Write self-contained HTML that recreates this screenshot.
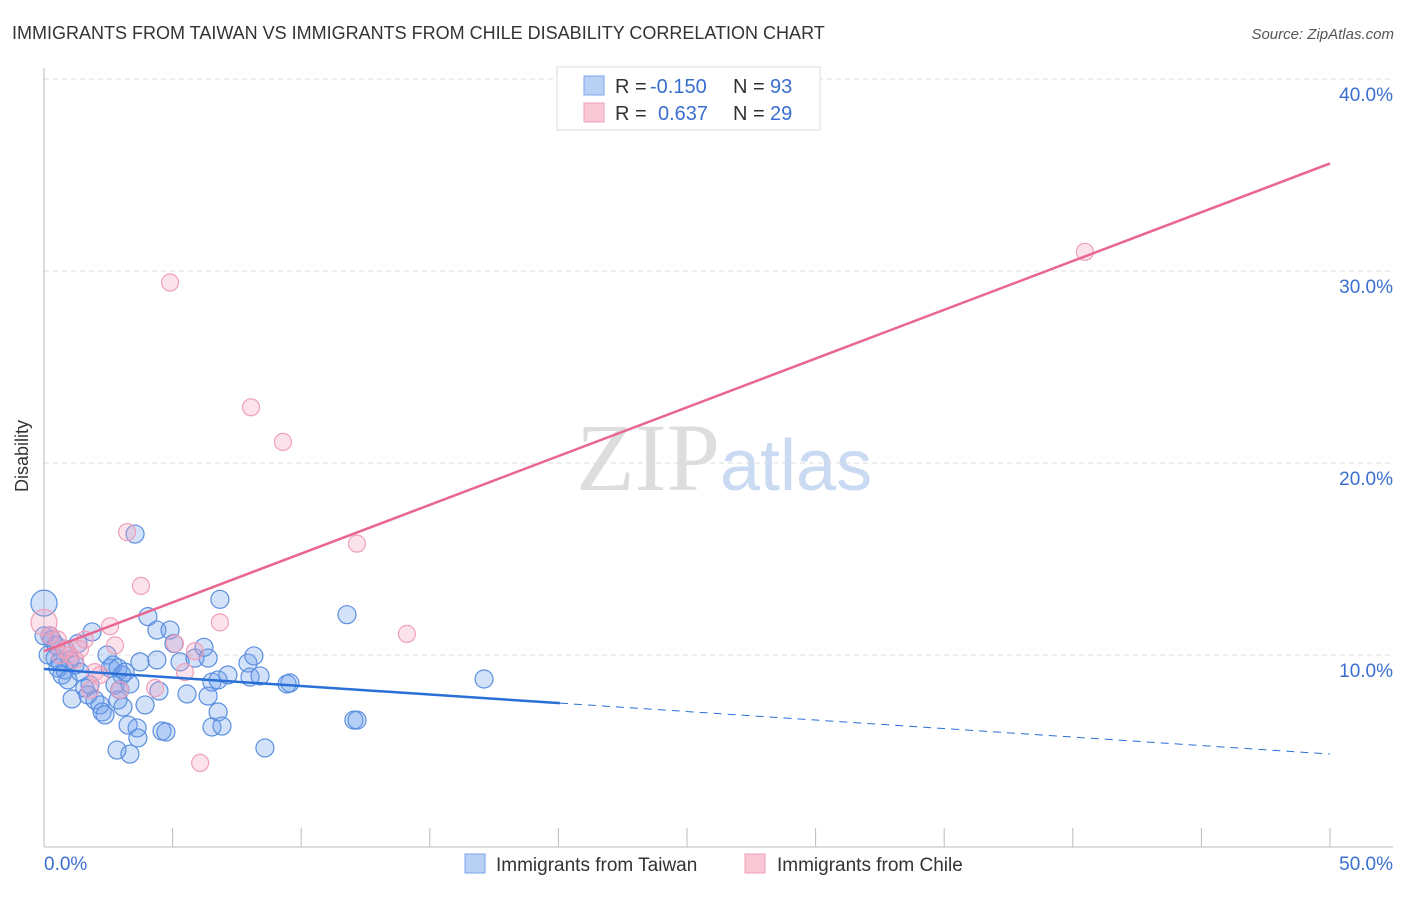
<!DOCTYPE html>
<html><head><meta charset="utf-8"><style>
body{margin:0;background:#fff;font-family:"Liberation Sans",sans-serif;}
</style></head><body>
<svg id="chart" width="1406" height="892" xmlns="http://www.w3.org/2000/svg">
<text x="12" y="39" font-size="18" fill="#333">IMMIGRANTS FROM TAIWAN VS IMMIGRANTS FROM CHILE DISABILITY CORRELATION CHART</text>
<text x="1394" y="39" font-size="15" fill="#555" font-style="italic" text-anchor="end">Source: ZipAtlas.com</text>
<text x="720" y="490" font-size="96" fill="#ddd" text-anchor="end" font-family="Liberation Serif">ZIP</text>
<text x="720" y="490" font-size="72" fill="#c9daf2">atlas</text>
<g id="grid"></g>
<line x1="44" y1="68" x2="44" y2="847" stroke="#bbb"/>
<line x1="44" y1="847" x2="1393" y2="847" stroke="#bbb"/>
<text x="28" y="456" font-size="18" fill="#333" text-anchor="middle" transform="rotate(-90 28 456)">Disability</text>
<text x="44" y="870" font-size="19" fill="#3a6fd0">0.0%</text>
<text x="1393" y="870" font-size="19" fill="#3a6fd0" text-anchor="end">50.0%</text>
<g id="points"></g>
<g id="lines"></g>
<g>
<rect x="557" y="67" width="263" height="63" fill="#fff" stroke="#ddd"/>
<rect x="584" y="76" width="20" height="19" fill="#b8d0f4" stroke="#7aa6e8"/>
<rect x="584" y="103" width="20" height="19" fill="#f9c8d6" stroke="#f0a0b8"/>
<text x="615" y="93" font-size="20" fill="#333">R = </text><text x="650" y="93" font-size="20" fill="#3a6fd0">-0.150</text>
<text x="733" y="93" font-size="20" fill="#333">N = </text><text x="770" y="93" font-size="20" fill="#3a6fd0">93</text>
<text x="615" y="120" font-size="20" fill="#333">R = </text><text x="658" y="120" font-size="20" fill="#3a6fd0">0.637</text>
<text x="733" y="120" font-size="20" fill="#333">N = </text><text x="770" y="120" font-size="20" fill="#3a6fd0">29</text>
</g>
<g>
<rect x="465" y="854" width="20" height="19" fill="#b8d0f4" stroke="#7aa6e8"/>
<text x="496" y="871" font-size="19" fill="#333">Immigrants from Taiwan</text>
<rect x="745" y="854" width="20" height="19" fill="#f9c8d6" stroke="#f0a0b8"/>
<text x="777" y="871" font-size="19" fill="#333">Immigrants from Chile</text>
</g>
</svg>
<script>
const yTicks=[10,20,30,40];
const yTickLabels=["10.0%","20.0%","30.0%","40.0%"];
const xTicks=[0,5,10,15,20,25,30,35,40,45,50];
const taiwanX=[0,0.23,0.31,0.16,0.43,0.62,0.82,1.01,1.21,0.54,0.70,0.93,1.40,1.59,1.79,1.09,1.71,1.98,2.18,2.26,2.37,1.87,2.45,2.57,2.68,2.88,3.03,3.15,2.76,2.95,3.34,2.88,3.07,3.27,3.62,3.65,2.84,3.34,3.54,4.04,4.39,4.90,5.05,4.39,3.73,5.29,5.87,6.22,6.38,5.56,6.38,6.53,6.77,6.84,7.15,7.93,8.16,8.01,8.40,6.77,6.53,6.92,4.59,4.74,4.47,3.93,8.59,9.45,9.56,11.78,12.05,12.17,17.11,0,0.47,0.82,1.32];
const taiwanY=[12.7,11.0,10.8,10.0,9.84,9.64,9.22,9.74,9.48,9.32,8.96,8.70,9.11,8.28,8.44,7.71,7.92,7.66,7.40,7.03,6.88,11.2,10.0,9.32,9.48,9.32,8.96,9.11,8.44,8.18,8.49,7.66,7.29,6.35,6.20,5.68,5.05,4.84,16.3,12.0,11.3,11.3,10.6,9.74,9.64,9.64,9.84,10.4,9.84,7.97,7.86,8.59,8.70,12.9,8.96,9.58,9.95,8.85,8.91,7.03,6.25,6.30,6.04,5.99,8.13,7.40,5.16,8.49,8.54,12.1,6.61,6.61,8.75,11.0,10.5,10.3,10.6];
const chileX=[4.90,8.05,9.29,3.23,3.77,12.17,14.11,40.47,0,0.23,0.54,1.59,1.40,0.82,1.21,2.57,2.76,2.18,1.98,5.09,5.87,6.84,5.48,4.32,2.95,6.07,1.01,0.62,1.79];
const chileY=[29.4,22.9,21.1,16.4,13.6,15.8,11.1,31.0,11.7,11.0,10.8,10.8,10.3,10.3,9.74,11.5,10.5,8.96,9.11,10.6,10.2,11.7,9.11,8.28,8.18,4.38,10.0,10.0,8.18];
const taiwanTrend=[9.27,4.84];
const taiwanSolidEnd=20.06;
const chileTrend=[10.2,35.6];
const NS="http://www.w3.org/2000/svg";
const sx=v=>44+v*25.72, sy=v=>847-v*19.2;
function mk(tag,attrs,parent){const e=document.createElementNS(NS,tag);for(const k in attrs)e.setAttribute(k,attrs[k]);parent.appendChild(e);return e;}
const grid=document.getElementById('grid');
yTicks.forEach((t,i)=>{
 const l=mk('line',{x1:44,x2:1393,y1:sy(t),y2:sy(t),stroke:'#ddd','stroke-dasharray':'5,4'},grid);
 
 
 const tx=mk('text',{x:1393,y:sy(t)+22,'font-size':19,fill:'#3a6fd0','text-anchor':'end'},grid);
 tx.textContent=yTickLabels[i];
 
 
});
xTicks.forEach(t=>{
 const l=mk('line',{x1:sx(t),x2:sx(t),y1:828,y2:847,stroke:'#bbb'},grid);
 
 
});
const pts=document.getElementById('points');
taiwanX.forEach((x,i)=>{
 const c=mk('circle',{cx:sx(x),cy:sy(taiwanY[i]),r:(x===0&&i===0)?13:9,fill:'rgba(110,160,235,0.3)',stroke:'#5b8fe0','stroke-width':1.2},pts);
 
 
});
chileX.forEach((x,i)=>{
 const c=mk('circle',{cx:sx(x),cy:sy(chileY[i]),r:(x===0)?13:8.5,fill:'rgba(245,160,190,0.3)',stroke:'#f0a0b8','stroke-width':1.2},pts);
 
 
});
const ln=document.getElementById('lines');
const ty=x=>taiwanTrend[0]+(taiwanTrend[1]-taiwanTrend[0])*x/50;
const l1=mk('line',{x1:sx(0),y1:sy(ty(0)),x2:sx(taiwanSolidEnd),y2:sy(ty(taiwanSolidEnd)),stroke:'#2a6fd6','stroke-width':2.5},ln);


const l2=mk('line',{x1:sx(taiwanSolidEnd),y1:sy(ty(taiwanSolidEnd)),x2:sx(50),y2:sy(ty(50)),stroke:'#2a6fd6','stroke-width':1,'stroke-dasharray':'8,6'},ln);


const l3=mk('line',{x1:sx(0),y1:sy(chileTrend[0]),x2:sx(50),y2:sy(chileTrend[1]),stroke:'#e8668f','stroke-width':2.5},ln);


</script>
</body></html>
